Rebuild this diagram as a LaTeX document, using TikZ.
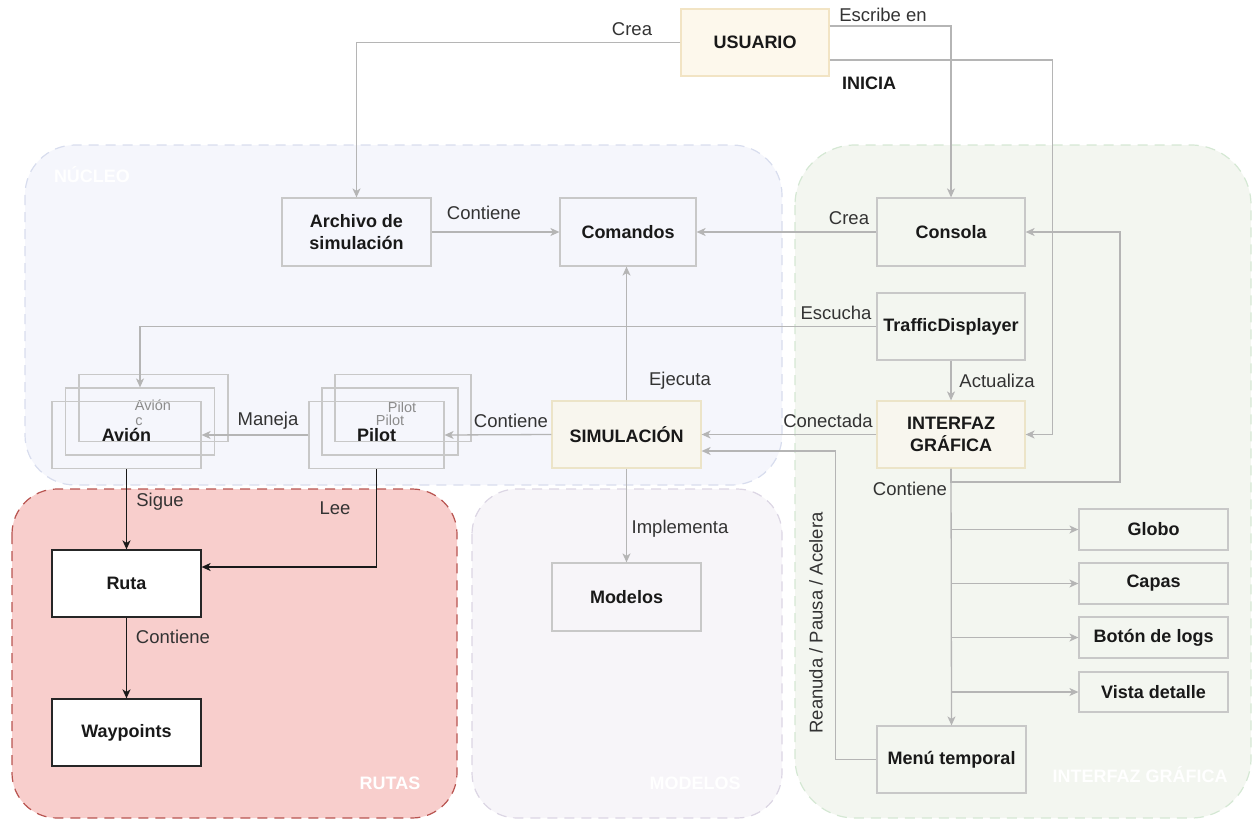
\documentclass[tikz,border=0pt]{standalone}
\usepackage{fontspec}
\setmainfont{Liberation Sans}
\usetikzlibrary{arrows.meta}
\definecolor{linegray}{HTML}{B5B5B5}
\definecolor{boxgray}{HTML}{C8C8C8}
\definecolor{txtgray}{HTML}{333333}
\definecolor{nucfill}{HTML}{F5F6FC}
\definecolor{nucline}{HTML}{D8DDEE}
\definecolor{rutfill}{HTML}{F8CECC}
\definecolor{rutline}{HTML}{B85450}
\definecolor{modfill}{HTML}{F7F5F9}
\definecolor{modline}{HTML}{DCD6E4}
\definecolor{guifill}{HTML}{F3F6F0}
\definecolor{guiline}{HTML}{D5E8D4}
\definecolor{userfill}{HTML}{FDF8EC}
\definecolor{userline}{HTML}{F2E4C4}
\definecolor{simfill}{HTML}{F8F6EE}
\definecolor{simline}{HTML}{ECE4C8}
\tikzset{
  regular/.style={font=\fontsize{18.5}{22}\selectfont, text=txtgray},
  heavy/.style={font=\fontsize{18}{22}\selectfont\bfseries, text=black!90},
  box/.style={draw=boxgray, line width=1.2pt, heavy, align=center,
    minimum width=149pt, minimum height=67pt, inner sep=2pt},
  smallbox/.style={box, minimum height=41pt},
  ghost/.style={draw=boxgray, line width=1.2pt, minimum height=67pt,
    font=\fontsize{15}{17}\selectfont, text=black!45, inner sep=0pt},
  ghostlbl/.style={font=\fontsize{14.5}{16}\selectfont, text=black!45, inner sep=0pt},
  rbox/.style={box, draw=black!85, fill=white},
  conn/.style={draw=linegray, line width=1.3pt,
    -{Stealth[length=9pt,width=8pt,inset=2.5pt]}},
  bconn/.style={draw=black!90, line width=1.5pt,
    -{Stealth[length=9pt,width=8pt,inset=2.5pt]}},
  lbl/.style={regular, inner sep=0pt},
  zone/.style={dashed, dash pattern=on 10pt off 7pt, line width=1.2pt},
  zonelbl/.style={font=\fontsize{18}{22}\selectfont\bfseries, text=white, inner sep=0pt}
}
\begin{document}
\begin{tikzpicture}[x=1pt,y=-1pt]
\useasboundingbox (0,0) rectangle (1252,819);

% grouping zones
\draw[zone, fill=nucfill, draw=nucline, rounded corners=50pt] (25,145) rectangle (782,485);
\draw[zone, fill=rutfill, draw=rutline, rounded corners=45pt] (12,489) rectangle (457,818);
\draw[zone, fill=modfill, draw=modline, rounded corners=45pt] (472,489) rectangle (782,818);
\draw[zone, fill=guifill, draw=guiline, rounded corners=60pt] (795,145) rectangle (1251,818);
\node[zonelbl] (lnuc) at (92,175) {NÚCLEO};
\node[zonelbl] (lrut) at (390,783) {RUTAS};
\node[zonelbl] (lmod) at (695,783) {MODELOS};
\node[zonelbl] (lgui) at (1140,775) {INTERFAZ GRÁFICA};

% nodes
\node[box, fill=userfill, draw=userline, minimum width=148pt] (usuario) at (755,42.5) {USUARIO};
\node[box, minimum height=68pt] (archivo) at (356.5,232) {Archivo de\\simulación};
\node[box, minimum width=136pt, minimum height=68pt] (comandos) at (628,232) {Comandos};
\node[box, minimum width=148pt, minimum height=68pt] (consola) at (951,232) {Consola};
\node[box, minimum width=148pt] (td) at (951,326.5) {TrafficDisplayer};
\node[box, fill=simfill, draw=simline, minimum width=148pt] (interfaz) at (951,434.5) {INTERFAZ\\GRÁFICA};
\node[box, fill=simfill, draw=simline] (sim) at (626.5,434.5) {SIMULACIÓN};

% stacked plane boxes
\node[ghost, minimum width=149pt] (avionB) at (153.5,408) {};
\node[ghostlbl] (avionBt) at (153,405) {Avión};
\node[ghost, minimum width=149pt] (avionM) at (140,421.5) {};
\node[ghostlbl] (avionMt) at (139,422) {c};
\node[box, draw=boxgray] (avionF) at (126.5,435) {Avión};

% stacked pilot boxes
\node[ghost, minimum width=136pt] (pilotB) at (403,408) {};
\node[ghostlbl] (pilotBt) at (402,407) {Pilot};
\node[ghost, minimum width=136pt] (pilotM) at (390,421.5) {};
\node[ghostlbl] (pilotMt) at (390,420) {Pilot};
\node[box, minimum width=135pt] (pilotF) at (376.5,435) {Pilot};

\node[rbox] (ruta) at (126.5,583.5) {Ruta};
\node[rbox] (way) at (126.5,732.5) {Waypoints};
\node[box, minimum height=68pt] (modelos) at (626.5,597) {Modelos};
\node[smallbox] (globo) at (1153.5,529.5) {Globo};
\node[smallbox] (capas) at (1153.5,583.5) {Capas};
\node[smallbox] (boton) at (1153.5,637.5) {Botón de logs};
\node[smallbox, minimum height=40pt] (vista) at (1153.5,692) {Vista detalle};
\node[box] (menu) at (951.5,759.5) {Menú temporal};

% connectors
\draw[conn] (usuario.west) -| (archivo.north);
\draw[conn] ([yshift=16.5pt]usuario.east) -| (consola.north);
\draw[conn] ([yshift=-17.5pt]usuario.east) -- ++(223,0) |- (interfaz.east);
\draw[conn] (archivo.east) -- (comandos.west);
\draw[conn] (consola.west) -- (comandos.east);
\draw[conn] (td.west) -| (avionM.north);
\draw[conn] (td.south) -- (interfaz.north);
\draw[conn] (sim.north) -- (sim.north |- comandos.south);
\draw[conn] (interfaz.west) -- (sim.east);
\draw[conn] (menu.west) -- ++(-41,0) |- ([yshift=-16.5pt]sim.east);
\draw[conn] (interfaz.south) -- ++(0,13.5) -- ++(169,0) |- (consola.east);
\draw[conn] (interfaz.south) -- (menu.north);
\draw[conn] (interfaz.south |- globo.west) -- (globo.west);
\draw[conn] (interfaz.south |- capas.west) -- (capas.west);
\draw[conn] (interfaz.south |- boton.west) -- (boton.west);
\draw[conn] (interfaz.south |- vista.west) -- (vista.west);
\draw[conn] (sim.west) -- (pilotF.east);
\draw[conn] (pilotF.west) -- (avionF.east);
\draw[conn] (sim.south) -- (sim.south |- modelos.north);
\draw[bconn] (avionF.south) -- (ruta.north);
\draw[bconn] (pilotF.south) |- ([yshift=16.5pt]ruta.east);
\draw[bconn] (ruta.south) -- (way.north);

% connector labels
\node[lbl] (tcrea1) at (632,29) {Crea};
\node[lbl] (tescr) at (883,15) {Escribe en};
\node[heavy, inner sep=0pt] (tinicia) at (869,83) {INICIA};
\node[lbl] (tcont1) at (484,213) {Contiene};
\node[lbl] (tcrea2) at (849,218) {Crea};
\node[lbl] (tescu) at (836,313) {Escucha};
\node[lbl] (tact) at (997,381) {Actualiza};
\node[lbl] (tejec) at (680,381) {Ejecuta};
\node[lbl] (tcone) at (828,421) {Conectada};
\node[lbl] (tcont2) at (511,421) {Contiene};
\node[lbl] (tmane) at (268,421) {Maneja};
\node[lbl] (timpl) at (680,529) {Implementa};
\node[lbl] (tcont3) at (910,489) {Contiene};
\node[lbl, rotate=90] (trean) at (816,623) {Reanuda / Pausa / Acelera};
\node[lbl] (tsigue) at (160,502) {Sigue};
\node[lbl] (tlee) at (335,508) {Lee};
\node[lbl] (tcont4) at (173,637) {Contiene};
\end{tikzpicture}
\end{document}
